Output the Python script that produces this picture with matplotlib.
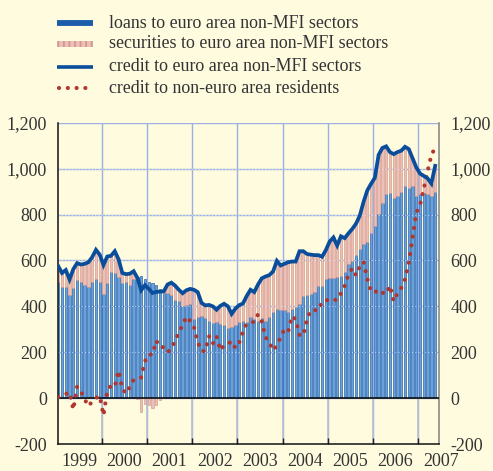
import matplotlib
matplotlib.use("Agg")
import matplotlib.pyplot as plt
from matplotlib.lines import Line2D
from matplotlib.patches import Rectangle
import matplotlib.transforms as mtransforms
import numpy as np

# ---------------- data (EUR billions, monthly Jan 1999 - May 2007) ----------------
start_year = 1999
loans = [507, 485, 483, 450, 479, 514, 507, 493, 486, 507, 517, 507,
         454, 500, 550, 546, 529, 500, 507, 493, 517, 529, 531, 517,
         507, 500, 493, 474, 457, 457, 450, 429, 421, 400, 404, 411,
         346, 353, 357, 349, 338, 328, 331, 324, 320, 305, 309, 320,
         331, 338, 331, 353, 346, 338, 349, 338, 353, 375, 389, 386,
         382, 375, 389, 396, 411, 447, 450, 455, 461, 490, 490, 519,
         524, 524, 527, 534, 548, 585, 599, 624, 650, 672, 679, 720,
         751, 802, 850, 889, 892, 870, 882, 896, 922, 915, 925, 882,
         889, 893, 889, 882, 896]
securities = [68, 60, 75, 67, 83, 74, 75, 92, 106, 107, 129, 118,
              126, 117, 70, 94, 76, 45, 33, 49, 36, -5, -61, -25,
              -31, -42, -30, -10, 8, 38, 53, 61, 51, 57, 66, 65,
              126, 109, 58, 55, 68, 72, 54, 78, 91, 95, 58, 70,
              74, 74, 114, 119, 116, 157, 173, 192, 183, 177, 209, 192,
              203, 217, 206, 199, 229, 193, 178, 170, 162, 133, 126, 126,
              158, 176, 138, 171, 149, 133, 138, 136, 145, 183, 226, 214,
              209, 258, 240, 208, 180, 193, 190, 182, 173, 170, 120, 123,
              89, 75, 68, 53, 116]
non_euro = [5, 13, 18, 25, -50, 50, 30, -5, -35, -15, 0, 10,
            -75, 30, 55, 50, 120, 40, 20, 50, 80, 85, 90, 160,
            190, 190, 250, 222, 222, 200, 215, 250, 285, 320, 355, 336,
            311, 245, 205, 205, 270, 237, 270, 208, 230, 235, 248, 218,
            241, 290, 325, 330, 332, 365, 333, 265, 244, 208, 230, 265,
            300, 290, 357, 343, 275, 272, 343, 383, 383, 383, 420, 424,
            433, 428, 428, 457, 490, 537, 566, 535, 574, 594, 520, 465,
            469, 451, 459, 454, 490, 422, 457, 480, 517, 590, 700, 809,
            841, 915, 990, 1059, 1092]
year_labels = ["1999", "2000", "2001", "2002", "2003", "2004", "2005", "2006", "2007"]
y_ticks = [-200, 0, 200, 400, 600, 800, 1000, 1200]
legend_labels = ["loans to euro area non-MFI sectors",
                 "securities to euro area non-MFI sectors",
                 "credit to euro area non-MFI sectors",
                 "credit to non-euro area residents"]

# ---------------- styling ----------------
BG = "#fefbdf"
BLUE_FACE = "#6aa0dc"
BLUE_EDGE = "#1b5cab"
PINK_FACE = "#ecc0b7"
PINK_EDGE = "#d3978f"
LINE_BLUE = "#0a4d9b"
DOT_RED = "#b0362e"
GRID = "#9cb0e2"
SERIF = ["Liberation Serif", "DejaVu Serif"]

plt.rcParams["font.family"] = SERIF
plt.rcParams["hatch.linewidth"] = 1.3

n = len(loans)
t = np.array([start_year + (k + 0.5) / 12.0 for k in range(n)])
loans_a = np.array(loans, dtype=float)
sec_a = np.array(securities, dtype=float)
total = loans_a + sec_a

fig = plt.figure(figsize=(4.93, 4.71), dpi=100, facecolor=BG)
ax = fig.add_axes([0.118, 0.0573, 0.7725, 0.6822], facecolor=BG)

ax.set_xlim(1999.04, 2007.46)
ax.set_ylim(-200, 1200)

# grid
for yv in y_ticks[1:]:
    ax.axhline(yv, color=GRID, lw=1.0, zorder=0)
for yr in range(2000, 2008):
    ax.axvline(yr, color=GRID, lw=1.0, zorder=0)
    ax.plot([yr, yr], [-200, 0], color="#b9c0cf", lw=1.2, zorder=0.5)

# bars
w = 0.62 / 12.0
ax.bar(t, loans_a, width=w, color=BLUE_FACE, edgecolor=BLUE_EDGE, linewidth=0.45, zorder=2)
pos_bottom = np.where(sec_a >= 0, loans_a, 0.0)
ax.bar(t, sec_a, width=w, bottom=pos_bottom, color=PINK_FACE, edgecolor=PINK_EDGE,
       linewidth=0.45, zorder=2)

# faint dotted gridlines over bars
for yv in [200, 400, 600, 800, 1000]:
    ax.axhline(yv, color="white", lw=0.8, ls=(0, (1, 2)), alpha=0.6, zorder=2.5)

ax.axhline(0, color="#111111", lw=1.2, zorder=3)

# non-euro area residents (dotted)
ax.plot(t, non_euro, color=DOT_RED, lw=3.0, ls=(0, (0.01, 2.1)), dash_capstyle="round",
        zorder=4)
# total credit line
ax.plot(t, total, color=LINE_BLUE, lw=2.7, solid_joinstyle="miter", zorder=5)

# spines
ax.spines["top"].set_visible(False)
ax.spines["left"].set_color("#111111")
ax.spines["left"].set_linewidth(1.1)
ax.spines["bottom"].set_color("#111111")
ax.spines["bottom"].set_linewidth(1.1)
ax.spines["right"].set_color("#808080")
ax.spines["right"].set_linewidth(1.1)

# y ticks both sides
ax.set_yticks(y_ticks)
ax.set_yticklabels([f"{v:,}" for v in y_ticks])
ax.tick_params(axis="y", which="both", length=0, labelsize=13, labelcolor="#333333",
               left=True, right=True, labelleft=True, labelright=True, pad=8)

# x ticks at year boundaries
ax.set_xticks(range(2000, 2008))
ax.set_xticklabels([])
ax.tick_params(axis="x", direction="in", length=4, width=1.0, color="#222222")

trans = mtransforms.blended_transform_factory(ax.transData, fig.transFigure)
for i, lab in enumerate(year_labels):
    ax.text(1999.5 + i, 1 - 462 / 471, lab, transform=trans, ha="center", va="center",
            fontsize=13, color="#333333", clip_on=False)

# legend (manual)
rows_y = [23.3, 43.8, 66.5, 88.3]
x0, x1 = 57 / 493, 93 / 493
tx = 109 / 493


def fy(py):
    return 1 - py / 471


fig.add_artist(Line2D([x0, x1], [fy(rows_y[0])] * 2, color=BLUE_EDGE, lw=4.2,
                      solid_capstyle="butt", transform=fig.transFigure))
fig.add_artist(Rectangle((x0, fy(rows_y[1]) - 3 / 471), x1 - x0, 6 / 471,
                         facecolor=PINK_FACE, edgecolor=PINK_EDGE, linewidth=0,
                         hatch="|||", transform=fig.transFigure))
fig.add_artist(Line2D([x0, x1], [fy(rows_y[2])] * 2, color=LINE_BLUE, lw=2.6,
                      solid_capstyle="butt", transform=fig.transFigure))
fig.add_artist(Line2D([x0 + 1.5 / 493, x1], [fy(rows_y[3])] * 2, color=DOT_RED, lw=3.0,
                      ls=(0, (0.01, 2.1)), dash_capstyle="round", transform=fig.transFigure))
for ry, lab in zip(rows_y, legend_labels):
    fig.text(tx, fy(ry), lab, ha="left", va="center", fontsize=12.9, color="#333333")

fig.savefig("out.png", dpi=100, facecolor=BG)
